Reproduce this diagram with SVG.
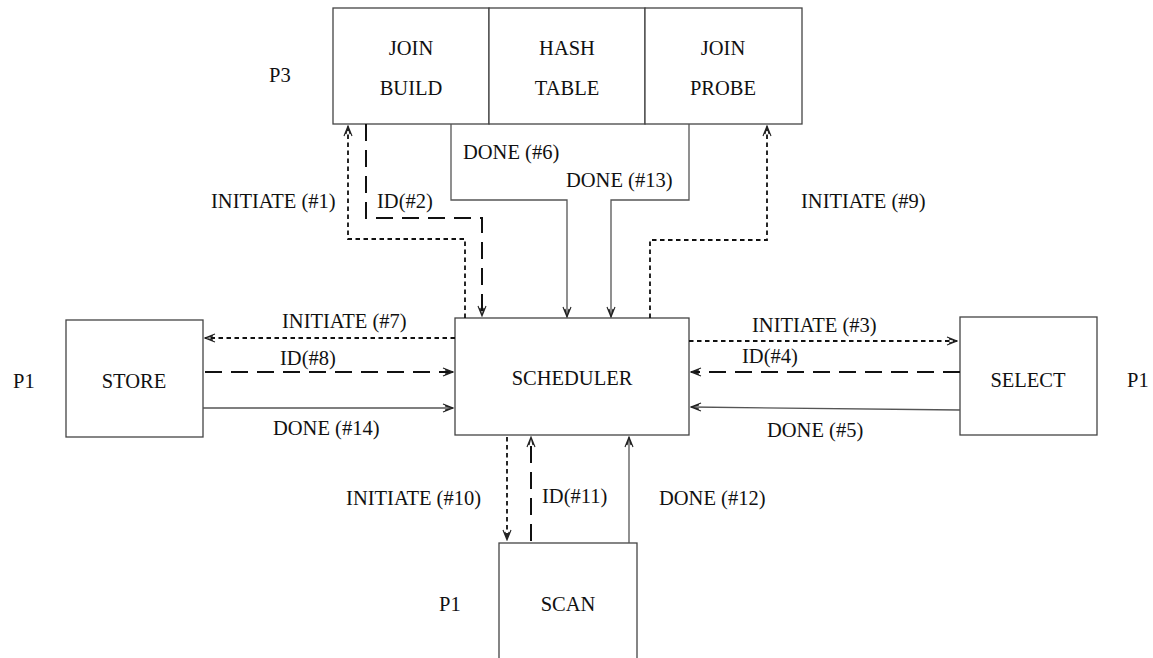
<svg xmlns="http://www.w3.org/2000/svg" width="1153" height="658" viewBox="0 0 1153 658">
<style>
  .box { fill: #fff; stroke: #444; stroke-width: 1.3; }
  .t { font-family: "Liberation Serif", "Times New Roman", serif; font-size: 20.5px; fill: #111; }
  .c { text-anchor: middle; }
  .solid { fill: none; stroke: #555; stroke-width: 1.3; marker-end: url(#arr); }
  .dot { fill: none; stroke: #111; stroke-width: 1.8; stroke-dasharray: 4.5 3.5; marker-end: url(#arr); }
  .dash { fill: none; stroke: #111; stroke-width: 2; stroke-dasharray: 17 9; marker-end: url(#arr); }
</style>
<defs>
  <marker id="arr" viewBox="0 0 12 10" refX="11" refY="5" markerWidth="12" markerHeight="10" markerUnits="userSpaceOnUse" orient="auto">
    <path d="M1,1 L11,5 L1,9 M3,3 L11,5 L3,7" fill="none" stroke="#222" stroke-width="1.1" stroke-dasharray="none"/>
  </marker>
</defs>
<rect width="1153" height="658" fill="#fff"/>

<g id="join-build">
  <rect class="box" x="333" y="8" width="156" height="116"/>
  <text class="t c" x="411" y="55">JOIN</text>
  <text class="t c" x="411" y="95">BUILD</text>
</g>
<g id="hash-table">
  <rect class="box" x="489" y="8" width="156" height="116"/>
  <text class="t c" x="567" y="55">HASH</text>
  <text class="t c" x="567" y="95">TABLE</text>
</g>
<g id="join-probe">
  <rect class="box" x="645" y="8" width="157" height="116"/>
  <text class="t c" x="723" y="55">JOIN</text>
  <text class="t c" x="723" y="95">PROBE</text>
</g>
<g id="p3-label">
  <text class="t" x="269" y="82">P3</text>
</g>
<g id="scheduler">
  <rect class="box" x="455" y="318" width="234" height="117"/>
  <text class="t c" x="572" y="385">SCHEDULER</text>
</g>
<g id="store">
  <rect class="box" x="66" y="320" width="137" height="117"/>
  <text class="t c" x="134" y="388">STORE</text>
  <text class="t" x="13" y="388">P1</text>
</g>
<g id="select">
  <rect class="box" x="960" y="317" width="137" height="118"/>
  <text class="t c" x="1028" y="387">SELECT</text>
  <text class="t" x="1127" y="387">P1</text>
</g>
<g id="scan">
  <rect class="box" x="499" y="543" width="138" height="130"/>
  <text class="t c" x="568" y="611">SCAN</text>
  <text class="t" x="439" y="611">P1</text>
</g>

<g id="connectors">
  <path class="dot" d="M465,318 V239 H348 V126"/>
  <path class="dash" d="M366,124 V218 H482 V316"/>
  <path class="solid" d="M451,124 V200 H567 V317"/>
  <path class="solid" d="M689,124 V200 H611 V317"/>
  <path class="dot" d="M650,318 V240 H767 V126"/>
  <path class="dot" d="M455,338 H205"/>
  <path class="dash" d="M205,372 H453"/>
  <path class="solid" d="M203,408 H453"/>
  <path class="dot" d="M689,341 H957"/>
  <path class="dash" d="M960,372 H691"/>
  <path class="solid" d="M960,410 L691,407"/>
  <path class="dot" d="M507,437 V540"/>
  <path class="dash" d="M531,541 V437"/>
  <path class="solid" d="M629,543 V437"/>
</g>

<g id="labels">
  <text class="t" x="211" y="208">INITIATE (#1)</text>
  <text class="t" x="377" y="208">ID(#2)</text>
  <text class="t" x="463" y="159">DONE (#6)</text>
  <text class="t" x="566" y="187">DONE (#13)</text>
  <text class="t" x="801" y="208">INITIATE (#9)</text>
  <text class="t" x="282" y="328">INITIATE (#7)</text>
  <text class="t" x="280" y="365">ID(#8)</text>
  <text class="t" x="273" y="435">DONE (#14)</text>
  <text class="t" x="752" y="332">INITIATE (#3)</text>
  <text class="t" x="742" y="363">ID(#4)</text>
  <text class="t" x="767" y="437">DONE (#5)</text>
  <text class="t" x="481" y="505" text-anchor="end">INITIATE (#10)</text>
  <text class="t" x="542" y="503">ID(#11)</text>
  <text class="t" x="659" y="505">DONE (#12)</text>
</g>
</svg>
